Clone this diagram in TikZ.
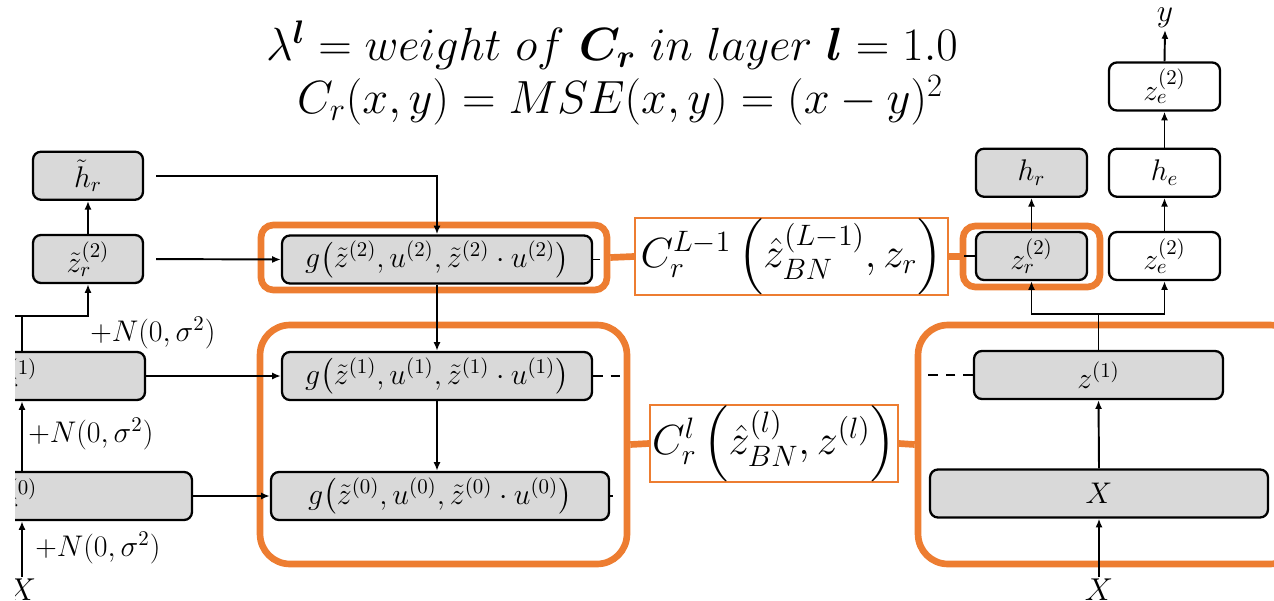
\RequirePackage{fix-cm}
\documentclass[tikz,border=0pt]{standalone}
\usepackage{amsmath,amssymb}
\usepackage{xcolor}
\usepackage{tikz}
\usetikzlibrary{
  arrows.meta,
  positioning, backgrounds
}
\definecolor{ringorange}{HTML}{ED7D31}
\definecolor{boxgray}   {HTML}{D9D9D9}
\tikzset{
  layerbox/.style={
    rectangle, rounded corners=4.5pt,
    minimum width=2.22cm, minimum height=0.96cm,
    inner sep=0pt, text centered, font=\fontsize{17}{20}\selectfont,
    draw=black, fill=#1, line width=1.3pt
  },
  layerbox/.default=boxgray,
  ringbox/.style={
    rectangle, rounded corners=#1,
    draw=ringorange, line width=3.8pt, inner sep=0pt
  },
  costbox/.style={
    rectangle, draw=ringorange, line width=1pt,
    minimum height=1.54cm, inner sep=0pt,
    font=\fontsize{24}{28}\selectfont
  },
  ringlink/.style={ringorange, line width=3.8pt},
  myarrow/.style={-{Latex[length=5pt,width=4pt]}, line width=1.1pt},
  plainline/.style={line width=1.1pt},
  skipline/.style={line width=1.1pt, dash pattern=on 5.5pt off 4.5pt},
  noiselabel/.style={anchor=west, inner sep=0pt, font=\fontsize{17}{20}\selectfont},
  endlabel/.style={inner sep=1pt, font=\fontsize{18}{21}\selectfont},
  titletext/.style={inner sep=0pt, font=\fontsize{26.5}{30}\selectfont}
}

\begin{document}
\begin{tikzpicture}[x=0.02cm, y=-0.02cm]

  \useasboundingbox (0,0) rectangle (1274,601);
  \begin{scope}
  \clip (15,0) rectangle (1274,601);

  % weight and cost
  \node[titletext] (title1) at (612,45)
    {$\lambda^{\boldsymbol{l}} = weight\ of\ \boldsymbol{C_r}\ in\ layer\ \boldsymbol{l} = 1.0$};
  \node[titletext] (title2) at (620,100)
    {$C_r(x,y) = MSE(x,y) = (x-y)^2$};

  % corrupted encoder
  \node[layerbox, minimum width=7.04cm] (zt0) at (16,496) {${\tilde{z}_r}^{(0)}$};
  \node[layerbox, minimum width=5.16cm] (zt1) at (16,376) {${\tilde{z}_r}^{(1)}$};
  \node[layerbox, minimum width=2.2cm] (zt2) at (88,259) {${\tilde{z}_r}^{(2)}$};
  \node[layerbox, minimum width=2.2cm, above=0.66cm of zt2] (ht) {$\tilde{h}_r$};
  \coordinate (lx) at (22,0);
  \node[endlabel] (xl) at (22,590) {$X$};
  \node[noiselabel] (n0) at (35,548) {$+N(0,\sigma^2)$};
  \node[noiselabel] (n1) at (28,434) {$+N(0,\sigma^2)$};
  \node[noiselabel] (n2) at (90,333) {$+N(0,\sigma^2)$};

  % decoder
  \node[layerbox, minimum width=6.76cm] (g0) at (440,496)
    {$g\bigl(\tilde{z}^{(0)}, u^{(0)}, \tilde{z}^{(0)}\cdot u^{(0)}\bigr)$};
  \node[layerbox, minimum width=6.2cm] (g1) at (437,376)
    {$g\bigl(\tilde{z}^{(1)}, u^{(1)}, \tilde{z}^{(1)}\cdot u^{(1)}\bigr)$};
  \node[layerbox, minimum width=6.2cm] (g2) at (437,259.5)
    {$g\bigl(\tilde{z}^{(2)}, u^{(2)}, \tilde{z}^{(2)}\cdot u^{(2)}\bigr)$};

  % reconstruction costs
  \node[costbox, minimum width=6.26cm] (cost2) at (791.5,256.5)
    {$C_r^{L-1}\left(\hat{z}_{BN}^{(L-1)}, z_r\right)$};
  \node[costbox, minimum width=4.96cm] (cost1) at (774,443.5)
    {$C_r^{l}\left(\hat{z}_{BN}^{(l)}, z^{(l)}\right)$};

  % clean encoder
  \node[layerbox, minimum width=6.76cm] (xb) at (1099,493.5) {$X$};
  \node[layerbox, minimum width=4.98cm] (z1) at (1098.5,375) {$z^{(1)}$};
  \node[layerbox] (zr2) at (1031.5,256) {$z_r^{(2)}$};
  \node[layerbox, above=0.66cm of zr2] (hr) {$h_r$};
  \node[layerbox=white] (ze2) at (1164.5,256) {$z_e^{(2)}$};
  \node[layerbox=white, above=0.66cm of ze2] (he) {$h_e$};
  \node[layerbox=white, above=0.72cm of he] (zetop) {$z_e^{(2)}$};
  \node[endlabel] (yl) at (1165,18) {$y$};
  \node[endlabel] (xr) at (1099,590) {$X$};

  \begin{scope}[on background layer]
    \node[ringbox=7pt, minimum width=6.92cm, minimum height=1.3cm] (ring2) at (434,257.5) {};
    \node[ringbox=17pt, minimum width=7.34cm, minimum height=4.78cm] (ring1) at (443.5,444.5) {};
    \node[ringbox=7pt, minimum width=2.74cm, minimum height=1.22cm] (ringzr) at (1031.5,256.5) {};
    \node[ringbox=17pt, minimum width=7.64cm, minimum height=4.78cm] (ringx) at (1109,444.5) {};
  \end{scope}

  % left column
  \draw[myarrow] (zt2.north) -- (ht.south);
  \draw[myarrow, shorten <=0.24cm] (ht.east) -| (g2.north);
  \draw[myarrow, shorten <=0.24cm] (zt2.east) -- (g2.west);
  \draw[myarrow] (zt1.east) -- (g1.west);
  \draw[myarrow] (zt0.east) -- (g0.west);
  \draw[myarrow] (xl.north) -- (zt0.south -| xl);
  \draw[myarrow] (zt0.north -| lx) -- (zt1.south -| lx);
  \draw[myarrow] (zt1.north -| lx) -- ++(0,0.7cm) -| (zt2.south);
  \draw[plainline] (zt1.north -| lx) ++(0,0.7cm) -- ++(-0.4cm,0);

  % middle column
  \draw[myarrow] (g2.south) -- (g1.north);
  \draw[myarrow] (g1.south) -- (g1.south |- g0.north);
  \draw[plainline] (g2.east) -- ++(0.14cm,0);
  \draw[skipline] (g1.east) -- ++(0.56cm,0);
  \draw[plainline] (g0.east) -- ++(0.06cm,0);

  % right column
  \draw[myarrow] (zr2.north) -- (hr.south);
  \draw[myarrow] (ze2.north) -- (he.south);
  \draw[myarrow] (he.north) -- (zetop.south);
  \draw[myarrow] (zetop.north) -- (yl.south);
  \draw[myarrow] (xb.north) -- (z1.south);
  \draw[myarrow] (xr.north) -- (xb.south);
  \draw[plainline] (z1.north) -- ++(0,0.72cm) coordinate (split);
  \draw[myarrow] (split) -| (zr2.south);
  \draw[myarrow] (split) -| (ze2.south);
  \draw[skipline] (z1.west) -- ++(-0.92cm,0);
  \draw[plainline] (zr2.west) -- ++(-0.22cm,0);

  % cost links
  \draw[ringlink] (ring2.east) -- (cost2.west);
  \draw[ringlink] (cost2.east) -- (ringzr.west);
  \draw[ringlink] (ring1.east) -- (cost1.west);
  \draw[ringlink] (cost1.east) -- (ringx.west);

  \end{scope}

\end{tikzpicture}
\end{document}
